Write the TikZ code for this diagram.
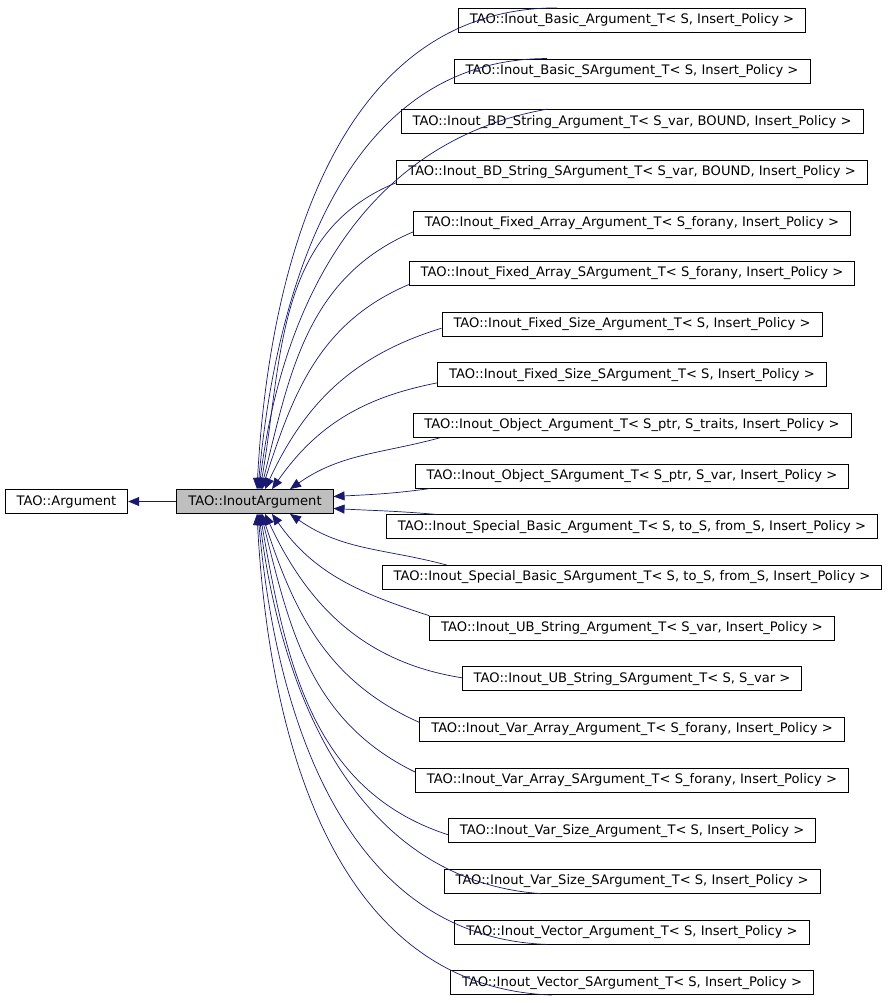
\documentclass[tikz,border=0pt]{standalone}
\usepackage{fontspec}
\setmainfont{DejaVu Sans}
\usetikzlibrary{arrows.meta}
\definecolor{edgeblue}{HTML}{191970}
\definecolor{boxgray}{HTML}{BFBFBF}
\tikzset{
  classbox/.style={draw, line width=0.8pt, inner xsep=11.5pt, inner ysep=0pt,
    minimum height=24pt, font=\fontsize{13.1}{15}\selectfont},
  inherit/.style={draw=edgeblue, line width=0.7pt, {Triangle[length=11pt,width=9pt]}-}
}
\begin{document}
\begin{tikzpicture}[x=1pt,y=1pt]
    \useasboundingbox (0,0) rectangle (888,-1003);

    \node[classbox] (arg) at (66.5,-501.5) {TAO::Argument};
    \node[classbox, fill=boxgray] (inout) at (255,-501.5) {TAO::InoutArgument};
    \draw[inherit] (arg) -- (inout);

    \foreach \i/\txt in {
        1/{TAO::Inout\_Basic\_Argument\_T< S, Insert\_Policy >},
        2/{TAO::Inout\_Basic\_SArgument\_T< S, Insert\_Policy >},
        3/{TAO::Inout\_BD\_String\_Argument\_T< S\_var, BOUND, Insert\_Policy >},
        4/{TAO::Inout\_BD\_String\_SArgument\_T< S\_var, BOUND, Insert\_Policy >},
        5/{TAO::Inout\_Fixed\_Array\_Argument\_T< S\_forany, Insert\_Policy >},
        6/{TAO::Inout\_Fixed\_Array\_SArgument\_T< S\_forany, Insert\_Policy >},
        7/{TAO::Inout\_Fixed\_Size\_Argument\_T< S, Insert\_Policy >},
        8/{TAO::Inout\_Fixed\_Size\_SArgument\_T< S, Insert\_Policy >},
        9/{TAO::Inout\_Object\_Argument\_T< S\_ptr, S\_traits, Insert\_Policy >},
        10/{TAO::Inout\_Object\_SArgument\_T< S\_ptr, S\_var, Insert\_Policy >},
        11/{TAO::Inout\_Special\_Basic\_Argument\_T< S, to\_S, from\_S, Insert\_Policy >},
        12/{TAO::Inout\_Special\_Basic\_SArgument\_T< S, to\_S, from\_S, Insert\_Policy >},
        13/{TAO::Inout\_UB\_String\_Argument\_T< S\_var, Insert\_Policy >},
        14/{TAO::Inout\_UB\_String\_SArgument\_T< S, S\_var >},
        15/{TAO::Inout\_Var\_Array\_Argument\_T< S\_forany, Insert\_Policy >},
        16/{TAO::Inout\_Var\_Array\_SArgument\_T< S\_forany, Insert\_Policy >},
        17/{TAO::Inout\_Var\_Size\_Argument\_T< S, Insert\_Policy >},
        18/{TAO::Inout\_Var\_Size\_SArgument\_T< S, Insert\_Policy >},
        19/{TAO::Inout\_Vector\_Argument\_T< S, Insert\_Policy >},
        20/{TAO::Inout\_Vector\_SArgument\_T< S, Insert\_Policy >}}
        \node[classbox] (c\i) at (632,{-20.3-(\i-1)*50.65}) {\txt};

    % edges leaving the top of the parent
    \foreach \i/\px/\o/\ca/\cx/\cy/\a in {
        1/2/87/north/-75/0/180, 2/3/85/north/-85/0/180, 3/4/83/north/-85/0/190,
        4/5/80/south west/0/2/202, 5/6/76/west/0/-9/203, 6/7/72/west/0/-11/203,
        7/10/65/west/0/-4/197, 8/17/55/west/0/-8/191, 9/35/35/south west/27/0/195}
        \draw[inherit] ([xshift=\px pt]inout.north) to[out=\o, in=\a] ([shift={(\cx pt,\cy pt)}]c\i.\ca);

    % edges leaving the side of the parent
    \draw[inherit] ([yshift=5pt]inout.east) to[out=3, in=188] ([xshift=15pt]c10.south west);
    \draw[inherit] ([yshift=-7pt]inout.east) to[out=-3, in=175] ([xshift=50pt]c11.north west);

    % edges leaving the bottom of the parent
    \foreach \i/\px/\o/\ca/\cx/\cy/\a in {
        12/35/-35/north west/65/0/165, 13/17/-55/north west/0/0/162, 14/10/-65/west/0/1/171,
        15/7/-72/west/0/7/156, 16/6/-76/west/0/8/154, 17/5/-80/west/0/-4/162,
        18/4/-83/south/-90/0/176, 19/3/-85/south/-85/0/178, 20/2/-87/south/-80/0/178}
        \draw[inherit] ([xshift=\px pt]inout.south) to[out=\o, in=\a] ([shift={(\cx pt,\cy pt)}]c\i.\ca);
\end{tikzpicture}
\end{document}
